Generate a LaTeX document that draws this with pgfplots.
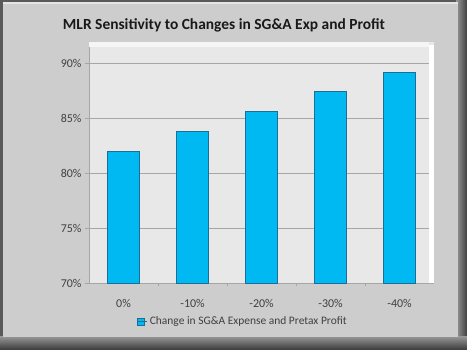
\documentclass[border=0pt]{standalone}
\usepackage{fontspec}
\setmainfont{Carlito}
\usepackage{pgfplots}
\pgfplotsset{compat=1.18}
\definecolor{bgray}{HTML}{CDCDCD}
\definecolor{panel}{HTML}{E8E8E8}
\definecolor{gridc}{HTML}{A6A6A6}
\definecolor{barc}{HTML}{00B8F2}
\definecolor{bare}{HTML}{1B6F93}
\definecolor{txt}{HTML}{404040}
\begin{document}
\begin{tikzpicture}[x=1bp,y=1bp]
\useasboundingbox (0,0) rectangle (467,349);
% frame
\fill[black!65] (0,0) rectangle (467,349);
\shade[left color=black!40, right color=black!75] (456,0) rectangle (467,349);
\shade[top color=black!40, bottom color=black!75] (0,0) rectangle (467,13);
\fill[bgray] (3,12) rectangle (458,347);
\fill[black!10] (3,345) rectangle (458,347);
\node[font=\bfseries\fontsize{15.5}{18}\selectfont, text=black!90] at (224,324) {MLR Sensitivity to Changes in SG\&A Exp and Profit};
\begin{axis}[
  at={(89bp,65.7bp)}, anchor=south west,
  scale only axis, width=345bp, height=240.9bp,
  xmin=-0.5, xmax=4.5, ymin=70, ymax=91.9,
  axis background/.style={fill=panel},
  axis x line*=bottom, axis y line*=left,
  axis line style={gridc, line width=0.8bp},
  ytick={70,75,80,85,90},
  yticklabel={\pgfmathprintnumber{\tick}\%},
  ymajorgrids, grid style={gridc, line width=0.8bp},
  xtick={0,1,2,3,4},
  xticklabels={0\%,-10\%,-20\%,-30\%,-40\%},
  minor xtick={0.5,1.5,2.5,3.5},
  tick align=outside,
  major tick length=4bp, minor tick length=3bp,
  x tick style={draw=none},
  minor x tick style={draw=gridc},
  y tick style={gridc},
  tick label style={font=\fontsize{12}{14}\selectfont, text=txt},
  xticklabel style={yshift=-9bp},
  /pgf/number format/assume math mode=true,
  clip=false,
  legend style={at={(0.446,-0.159)}, anchor=center, draw=none, fill=none,
    font=\fontsize{11.5}{14}\selectfont, text=txt, inner sep=0pt},
  legend image code/.code={\draw[fill=barc, draw=bare, line width=0.4bp] (0bp,-3.5bp) rectangle (7bp,3.5bp);
    \path (0bp,0bp) -- (10bp,0bp);},
]
\draw[white, line width=5bp] ([xshift=-3bp]rel axis cs:1,0) -- ([xshift=-3bp,yshift=-3bp]rel axis cs:1,1);
\draw[black!4, line width=5bp] ([yshift=-2.5bp]rel axis cs:0,1) -- ([yshift=-2.5bp,xshift=-5.5bp]rel axis cs:1,1);
\addplot[ybar, bar width=31.6bp, draw=bare, line width=0.8bp,
  fill=barc, bar shift=0pt]
  coordinates {(0,82.0) (1,83.8) (2,85.6) (3,87.4) (4,89.2)};
\addlegendentry{Change in SG\&A Expense and Pretax Profit}
\end{axis}
\end{tikzpicture}
\end{document}
